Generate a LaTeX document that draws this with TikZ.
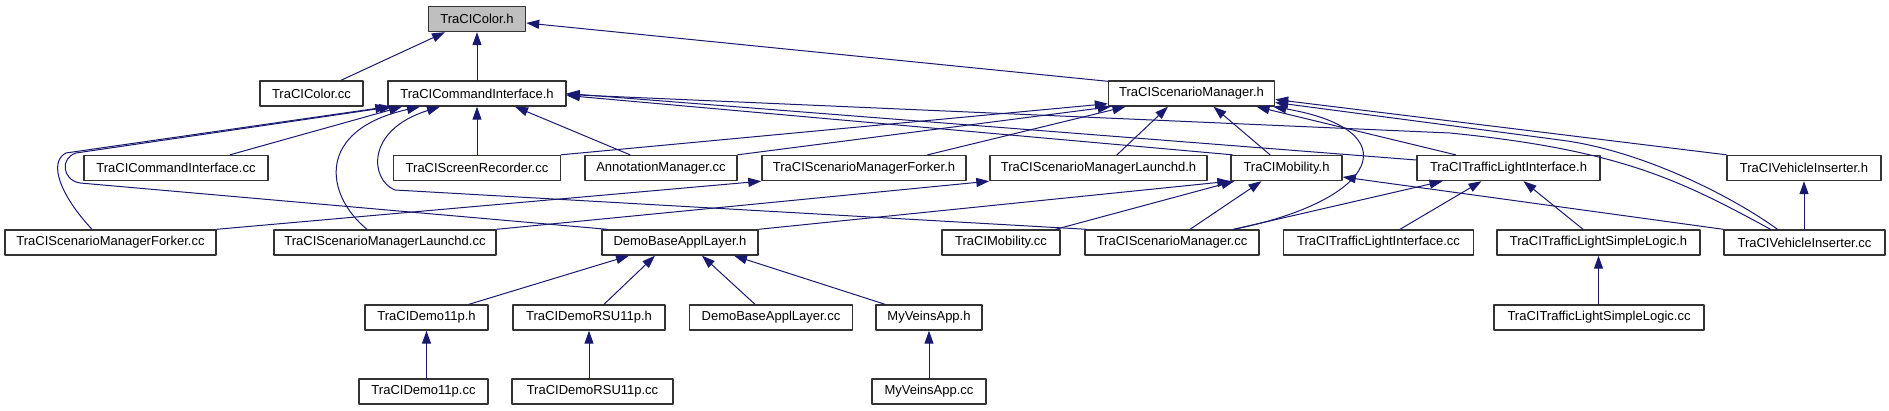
\documentclass[tikz,border=0pt]{standalone}
\usepackage{fontspec}
\setmainfont{Liberation Sans}
\usetikzlibrary{calc,arrows.meta,positioning}
\definecolor{midnight}{HTML}{191970}
\tikzset{incgraph/.style={
  x=1pt,y=-1pt,
  line join=round,line cap=round
},
file/.style={draw=black!80,line width=1.4pt,fill=white,minimum height=25pt,inner sep=0pt,
  font=\fontsize{13}{15}\selectfont},
dep/.style={draw=midnight,line width=1pt,-{Triangle[length=13pt,width=9pt]}}}

\begin{document}
\begin{tikzpicture}[incgraph]
  \useasboundingbox (0,0) rectangle (1889,411);
  \node[file,fill=black!25,minimum width=97pt] (col) at (477,19) {TraCIColor.h};
  \node[file,minimum width=103pt] (colcc) at (311.5,93.5) {TraCIColor.cc};
  \node[file,minimum width=178pt] (cmi) at (477,93.5) {TraCICommandInterface.h};
  \node[file,minimum width=166pt] (smh) at (1191.5,93.5) {TraCIScenarioManager.h};
  \node[file,minimum width=184pt] (cmicc) at (176,168) {TraCICommandInterface.cc};
  \node[file,minimum width=167pt] (scr) at (477,168) {TraCIScreenRecorder.cc};
  \node[file,minimum width=152pt] (ann) at (661,168) {AnnotationManager.cc};
  \node[file,minimum width=204pt] (fkh) at (864,168) {TraCIScenarioManagerForker.h};
  \node[file,minimum width=217pt] (lch) at (1098.5,168) {TraCIScenarioManagerLaunchd.h};
  \node[file,minimum width=111pt] (mob) at (1286.5,168) {TraCIMobility.h};
  \node[file,minimum width=183pt] (tli) at (1508.5,168) {TraCITrafficLightInterface.h};
  \node[file,minimum width=154pt] (vih) at (1804,168) {TraCIVehicleInserter.h};
  \node[file,minimum width=211pt] (fkcc) at (110.5,242.5) {TraCIScenarioManagerForker.cc};
  \node[file,minimum width=222pt] (lccc) at (385,242.5) {TraCIScenarioManagerLaunchd.cc};
  \node[file,minimum width=156pt] (dbh) at (680,242.5) {DemoBaseApplLayer.h};
  \node[file,minimum width=118pt] (mobcc) at (1001,242.5) {TraCIMobility.cc};
  \node[file,minimum width=174pt] (smcc) at (1172,242.5) {TraCIScenarioManager.cc};
  \node[file,minimum width=190pt] (tlicc) at (1378.5,242.5) {TraCITrafficLightInterface.cc};
  \node[file,minimum width=203pt] (tlsh) at (1598.5,242.5) {TraCITrafficLightSimpleLogic.h};
  \node[file,minimum width=161pt] (vicc) at (1804.5,242.5) {TraCIVehicleInserter.cc};
  \node[file,minimum width=123pt] (d11h) at (426.5,317.5) {TraCIDemo11p.h};
  \node[file,minimum width=152pt] (rsuh) at (589,317.5) {TraCIDemoRSU11p.h};
  \node[file,minimum width=163pt] (dbcc) at (771,317.5) {DemoBaseApplLayer.cc};
  \node[file,minimum width=106pt] (myh) at (929,317.5) {MyVeinsApp.h};
  \node[file,minimum width=210pt] (tlscc) at (1599,317.5) {TraCITrafficLightSimpleLogic.cc};
  \node[file,minimum width=129pt] (d11cc) at (423.5,391.5) {TraCIDemo11p.cc};
  \node[file,minimum width=161pt] (rsucc) at (592.5,391.5) {TraCIDemoRSU11p.cc};
  \node[file,minimum width=114pt] (mycc) at (929,391.5) {MyVeinsApp.cc};

  \draw[dep] ($(colcc.north)+(29.5,0)$) -- ($(col.south)+(-32,0)$);
  \draw[dep] (cmi.north) -- (col.south);
  \draw[dep] ($(smh.north west)+(0,1)$) -- ($(col.east)+(0,4)$);

  \draw[dep] ($(cmicc.north)+(54,0)$) -- ($(cmi.south)+(-75,0)$);
  \draw[dep] (scr.north) -- (cmi.south);
  \draw[dep] ($(ann.north)+(-31,0)$) -- ($(cmi.south)+(38,0)$);
  \draw[dep] ($(fkcc.north)+(-18.5,0)$) .. controls (60,195) and (48,162) .. (66,153) -- ($(cmi.south west)+(1,0)$);
  \draw[dep] ($(dbh.north)+(-73,0)$) -- (80,183) .. controls (62,180) and (60,158) .. (76,153) -- ($(cmi.south west)+(5,0)$);
  \draw[dep] ($(lccc.north)+(-18,0)$) .. controls (325,195) and (315,130) .. ($(cmi.south)+(-57,0)$);
  \draw[dep] ($(smcc.north west)+(2,0)$) -- (395,190) .. controls (370,180) and (365,130) .. ($(cmi.south)+(-37,0)$);
  \draw[dep] ($(mob.north west)+(2,0)$) -- ($(cmi.east)+(0,2)$);
  \draw[dep] ($(tli.west)+(0,-8)$) -- (cmi.east);
  \draw[dep] ($(vicc.north)+(-34,0)$) .. controls (1680,180) and (1620,150) .. (1450,133) -- ($(cmi.east)+(0,1)$);

  \draw[dep] (scr.north east) -- ($(smh.south west)+(0,-3)$);
  \draw[dep] (ann.north east) -- ($(smh.south west)+(3,0)$);
  \draw[dep] ($(fkh.north east)+(-39,0)$) -- ($(smh.south)+(-66,0)$);
  \draw[dep] ($(lch.north)+(18.5,0)$) -- ($(smh.south)+(-23.5,0)$);
  \draw[dep] ($(mob.north)+(-16.5,0)$) -- ($(smh.south)+(22,0)$);
  \draw[dep] ($(tli.north)+(-53,0)$) -- ($(smh.south)+(65,0)$);
  \draw[dep] ($(smcc.north east)+(-26,0)$) .. controls (1380,200) and (1410,130) .. ($(smh.south east)+(-2,0)$);
  \draw[dep] (vih.north west) -- ($(smh.east)+(0,6)$);
  \draw[dep] ($(vicc.north)+(-27,0)$) .. controls (1730,195) and (1640,150) .. (1560,140) -- ($(smh.east)+(0,9)$);

  \draw[dep] (dbh.north east) -- (mob.south west);
  \draw[dep] ($(mobcc.north east)+(-5,0)$) -- ($(mob.south west)+(4,0)$);
  \draw[dep] ($(smcc.north)+(18,0)$) -- ($(mob.south)+(-25,0)$);
  \draw[dep] (vicc.north west) -- ($(mob.east)+(0,9)$);
  \draw[dep] (fkcc.north east) -- (fkh.south west);
  \draw[dep] (lccc.north east) -- (lch.south west);
  \draw[dep] ($(smcc.north east)+(-26,0)$) -- ($(tli.south)+(-66,0)$);
  \draw[dep] ($(tlicc.north)+(21.5,0)$) -- ($(tli.south)+(-27,0)$);
  \draw[dep] ($(tlsh.north)+(-15.5,0)$) -- ($(tli.south)+(15,0)$);
  \draw[dep] (vicc.north -| vih.south) -- (vih.south);

  \draw[dep] ($(d11h.north)+(42.5,0)$) -- ($(dbh.south)+(-51,0)$);
  \draw[dep] ($(rsuh.north)+(15,0)$) -- ($(dbh.south)+(-25,0)$);
  \draw[dep] ($(dbcc.north)+(-16,0)$) -- ($(dbh.south)+(22,0)$);
  \draw[dep] ($(myh.north)+(-44,0)$) -- ($(dbh.south)+(54,0)$);
  \draw[dep] (d11cc.north -| d11h.south) -- (d11h.south);
  \draw[dep] (rsucc.north -| rsuh.south) -- (rsuh.south);
  \draw[dep] (mycc.north) -- (myh.south);
  \draw[dep] (tlscc.north -| tlsh.south) -- (tlsh.south);
\end{tikzpicture}
\end{document}
